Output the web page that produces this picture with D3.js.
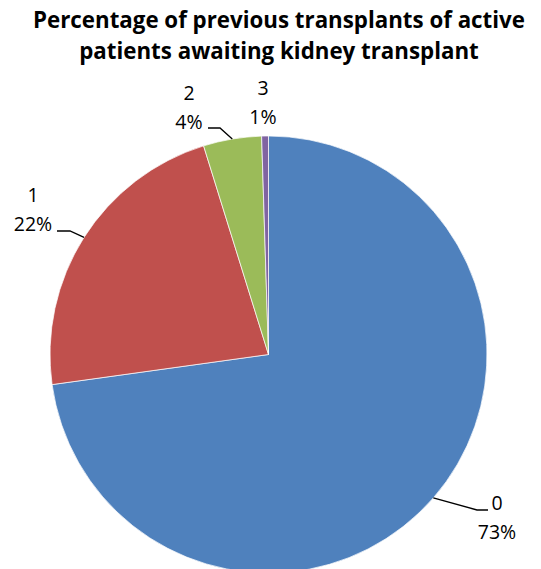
<!DOCTYPE html>
<html>
<head>
<meta charset="utf-8">
<script src="https://cdn.jsdelivr.net/npm/d3@7"></script>
<style>
  body { margin: 0; background: #fff; }
  text { font-family: "Open Sans", sans-serif; }
</style>
</head>
<body>
<div id="chart"></div>
<script>
(function() {

    var width = 541,
        height = 569;

    // data
    var categories = ["0", "1", "2", "3"];
    var percents = [72.8, 22.4, 4.3, 0.5];
    var titleLines = ["Percentage of previous transplants of active",
                      "patients awaiting kidney transplant"];

    var colors = ["#4F81BD", "#C0504D", "#9BBB59", "#8064A2"];

    var cx = 268.5, cy = 354.5, radius = 218.5;

    // label layout (elbow point, end point, text centre x, first baseline)
    var labelLayout = [
        { elbow: [477, 510], end: [488, 510], tx: 497, ty: 510 },
        { elbow: [70, 231], end: [57, 231], tx: 33, ty: 202 },
        { elbow: [220, 128], end: [208, 128], tx: 189, ty: 100 },
        { elbow: null, end: null, tx: 263, ty: 95 }
    ];

    var svg = d3.select("#chart")
        .append("svg")
        .attr("width", width)
        .attr("height", height);

    svg.append("text")
        .attr("x", 279)
        .attr("y", 28)
        .attr("text-anchor", "middle")
        .style("font-weight", "bold")
        .style("font-size", "22.3px")
        .selectAll("tspan")
        .data(titleLines)
        .enter().append("tspan")
        .attr("x", 279)
        .attr("dy", function(d, i) { return i === 0 ? 0 : 31; })
        .text(function(d) { return d; });

    var data = categories.map(function(c, i) {
        return { cat: c, value: percents[i], color: colors[i], layout: labelLayout[i] };
    });

    var pie = d3.pie()
        .sort(null)
        .value(function(d) { return d.value; });

    var arc = d3.arc()
        .innerRadius(0)
        .outerRadius(radius);

    var g = svg.append("g")
        .attr("transform", "translate(" + cx + "," + cy + ")");

    var arcs = pie(data);

    g.selectAll(".slice")
        .data(arcs)
        .enter().append("path")
        .attr("class", "slice")
        .attr("d", arc)
        .attr("fill", function(d) { return d.data.color; })
        .attr("stroke", "#fff")
        .attr("stroke-width", 0.7);

    // leader lines start on the arc edge at the slice mid angle
    arcs.forEach(function(d) {
        var L = d.data.layout;
        if (!L.elbow) return;
        var mid = (d.startAngle + d.endAngle) / 2;
        var sx = cx + radius * Math.sin(mid),
            sy = cy - radius * Math.cos(mid);
        svg.append("polyline")
            .attr("points", [[sx, sy], L.elbow, L.end].map(function(p) { return p.join(","); }).join(" "))
            .attr("fill", "none")
            .attr("stroke", "#000")
            .attr("stroke-width", 1.3);
    });

    var labels = svg.selectAll(".lbl")
        .data(arcs)
        .enter().append("text")
        .attr("class", "lbl")
        .attr("text-anchor", "middle")
        .style("font-size", "19.5px")
        .attr("fill", "#000");

    labels.append("tspan")
        .attr("x", function(d) { return d.data.layout.tx; })
        .attr("y", function(d) { return d.data.layout.ty; })
        .text(function(d) { return d.data.cat; });

    labels.append("tspan")
        .attr("x", function(d) { return d.data.layout.tx; })
        .attr("y", function(d) { return d.data.layout.ty + 29; })
        .text(function(d) { return Math.round(d.data.value) + "%"; });

})();
</script>
</body>
</html>
